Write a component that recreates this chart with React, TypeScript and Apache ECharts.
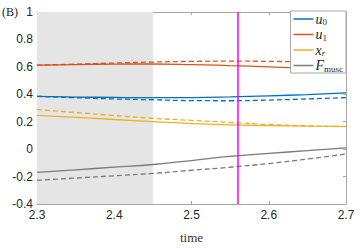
import React, { useEffect, useRef } from "react";
import * as echarts from "echarts";

const times = [2.3, 2.35, 2.4, 2.45, 2.5, 2.55, 2.6, 2.65, 2.7];
const u0Solid = [0.385, 0.38, 0.377, 0.375, 0.376, 0.381, 0.389, 0.398, 0.41];
const u0Dashed = [0.385, 0.375, 0.366, 0.36, 0.354, 0.353, 0.358, 0.366, 0.376];
const u1Solid = [0.612, 0.617, 0.62, 0.621, 0.617, 0.609, 0.6, 0.589, 0.577];
const u1Dashed = [0.612, 0.62, 0.628, 0.635, 0.64, 0.642, 0.64, 0.636, 0.63];
const xrSolid = [0.246, 0.232, 0.216, 0.201, 0.186, 0.177, 0.172, 0.168, 0.166];
const xrDashed = [0.289, 0.267, 0.245, 0.225, 0.21, 0.195, 0.18, 0.17, 0.164];
const fSolid = [-0.17, -0.151, -0.131, -0.112, -0.083, -0.053, -0.031, -0.011, 0.009];
const fDashed = [-0.228, -0.211, -0.194, -0.177, -0.154, -0.132, -0.105, -0.072, -0.036];
const shadedRange = [2.3, 2.45];
const markerTime = 2.558;

const legendNames = ["u0", "u1", "xr", "Fmusc"];
const legendRich: Record<string, string> = {
  u0: "{i|u}{s|0}",
  u1: "{i|u}{s|1}",
  xr: "{i|x}{si|r}",
  Fmusc: "{i|F}{s|musc}",
};

const BLUE = "#0072BD";
const RED = "#D95319";
const YELLOW = "#EDB120";
const GRAY = "#7a7a7a";

const pairs = (ys: number[]) => times.map((t, i) => [t, ys[i]]);

export default function App() {
  const ref = useRef<HTMLDivElement>(null);
  useEffect(() => {
    if (!ref.current) return;
    document.body.style.margin = "0";
    const chart = echarts.init(ref.current, null, { renderer: "svg" });
    const sans = "Liberation Sans";
    const serif = "Liberation Serif";
    const line = (name: string, ys: number[], color: string, dashed: boolean, extra: any = {}) => ({
      type: "line",
      name,
      data: pairs(ys),
      symbol: "none",
      smooth: true,
      lineStyle: { color, width: 1.3, type: dashed ? [5, 3] : "solid" },
      itemStyle: { color },
      ...extra,
    });
    chart.setOption({
      animation: false,
      grid: { left: 37, top: 12, width: 309, height: 201 },
      xAxis: [
        {
          type: "value",
          min: 2.3,
          max: 2.7,
          interval: 0.1,
          axisLine: { show: true, onZero: false, lineStyle: { color: "#a6a6a6" } },
          axisTick: { inside: true, length: 3, lineStyle: { color: "#a6a6a6" } },
          axisLabel: { color: "#262626", fontFamily: sans, fontSize: 12, margin: 5 },
          splitLine: { show: false },
          name: "time",
          nameLocation: "middle",
          nameGap: 27,
          nameTextStyle: { fontFamily: serif, fontSize: 13, color: "#333" },
        },
        {
          type: "value",
          position: "top",
          min: 2.3,
          max: 2.7,
          interval: 0.1,
          axisLine: { show: true, onZero: false, lineStyle: { color: "#a6a6a6" } },
          axisTick: { inside: true, length: 3, lineStyle: { color: "#a6a6a6" } },
          axisLabel: { show: false },
          splitLine: { show: false },
        },
      ],
      yAxis: [
        {
          type: "value",
          min: -0.4,
          max: 1,
          interval: 0.2,
          axisLine: { show: true, onZero: false, lineStyle: { color: "#a6a6a6" } },
          axisTick: { show: true, inside: true, length: 3, lineStyle: { color: "#a6a6a6" } },
          axisLabel: { color: "#262626", fontFamily: sans, fontSize: 12, margin: 4 },
          splitLine: { show: false },
        },
        {
          type: "value",
          position: "right",
          min: -0.4,
          max: 1,
          interval: 0.2,
          axisLine: { show: true, onZero: false, lineStyle: { color: "#a6a6a6" } },
          axisTick: { show: true, inside: true, length: 3, lineStyle: { color: "#a6a6a6" } },
          axisLabel: { show: false },
          splitLine: { show: false },
        },
      ],
      legend: {
        data: legendNames,
        orient: "vertical",
        right: 14,
        top: 11,
        padding: [1, 3, 0, 3],
        itemGap: 1,
        itemWidth: 20,
        itemHeight: 1.5,
        icon: "rect",
        backgroundColor: "#fff",
        borderColor: "#a6a6a6",
        borderWidth: 1,
        borderRadius: 0,
        formatter: (name: string) => legendRich[name],
        textStyle: {
          padding: [0, 0, 0, -3],
          rich: {
            i: { fontFamily: serif, fontStyle: "italic", fontSize: 14, color: "#262626", height: 13.5 },
            s: { fontFamily: serif, fontSize: 9, color: "#262626", verticalAlign: "bottom", padding: [6, 0, 0, 0] },
            si: { fontFamily: serif, fontStyle: "italic", fontSize: 9, color: "#262626", verticalAlign: "bottom", padding: [6, 0, 0, 0] },
          },
        },
      },
      graphic: [
        {
          type: "text",
          left: 2,
          top: 6,
          style: { text: "(B)", font: "12px 'Liberation Serif'", fill: "#262626" },
        },
      ],
      series: [
        line("shade", fDashed, GRAY, true, {
          markArea: {
            silent: true,
            itemStyle: { color: "#e5e5e5" },
            data: [[{ xAxis: shadedRange[0] }, { xAxis: shadedRange[1] }]],
          },
        }),
        line("Fmusc", fSolid, GRAY, false),
        line("xr_d", xrDashed, YELLOW, true),
        line("xr", xrSolid, YELLOW, false),
        line("u1_d", u1Dashed, RED, true),
        line("u1", u1Solid, RED, false),
        line("u0_d", u0Dashed, BLUE, true),
        line("u0", u0Solid, BLUE, false, {
          markLine: {
            silent: true,
            symbol: "none",
            label: { show: false },
            lineStyle: { color: "#ff00ff", width: 1.5, type: "solid" },
            data: [{ xAxis: markerTime }],
          },
        }),
      ],
    });
    return () => chart.dispose();
  }, []);
  return <div ref={ref} style={{ width: 360, height: 249 }} />;
}
